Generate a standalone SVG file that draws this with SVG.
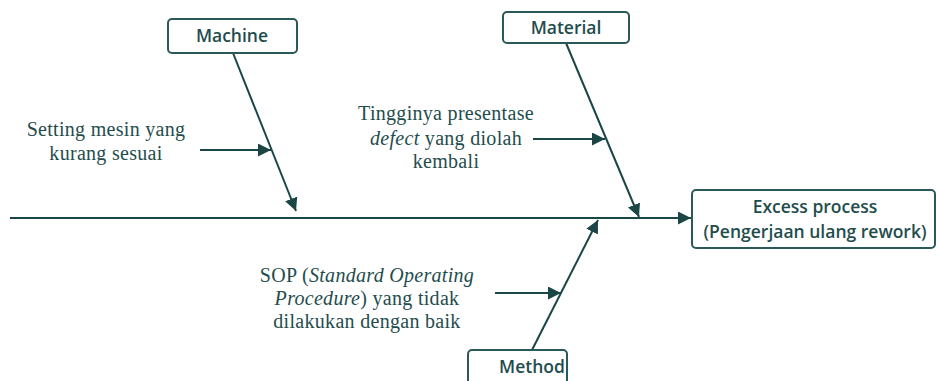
<svg xmlns="http://www.w3.org/2000/svg" width="937" height="381" viewBox="0 0 937 381">
  <style>
    .box { fill: #ffffff; stroke: #2b5858; stroke-width: 2; }
    .lbl { font-family: "Open Sans", "Liberation Sans", sans-serif; font-weight: 600; font-size: 17.5px; fill: #1f4d4d; text-anchor: middle; }
    .cause { font-family: "Liberation Serif", "DejaVu Serif", serif; font-size: 20px; letter-spacing: 0.3px; fill: #1f4d4d; text-anchor: middle; }
    .bone { stroke: #1a4646; stroke-width: 2; fill: none; marker-end: url(#head); }
  </style>
  <defs>
    <marker id="head" viewBox="0 0 10 10" refX="10" refY="5" markerWidth="6.5" markerHeight="6.5" markerUnits="strokeWidth" orient="auto">
      <path d="M0,0 L10,5 L0,10 Z" fill="#1a4646"/>
    </marker>
  </defs>

  <!-- connectors: spine, category bones and cause arrows -->
  <g id="connectors">
    <line class="bone" x1="10" y1="218" x2="691" y2="218"/>
    <line class="bone" x1="233" y1="53" x2="296" y2="211"/>
    <line class="bone" x1="566" y1="43" x2="639" y2="217"/>
    <line class="bone" x1="532" y1="350" x2="598" y2="220"/>
    <line class="bone" x1="200" y1="150" x2="271" y2="150"/>
    <line class="bone" x1="533" y1="139" x2="605" y2="139"/>
    <line class="bone" x1="495" y1="293" x2="561" y2="293"/>
  </g>

  <g id="machine">
    <rect class="box" x="168" y="19" width="129" height="34" rx="4"/>
    <text class="lbl" x="232" y="42">Machine</text>
  </g>

  <g id="material">
    <rect class="box" x="503" y="12" width="126" height="31" rx="4"/>
    <text class="lbl" x="566" y="34">Material</text>
  </g>

  <g id="method">
    <rect class="box" x="468" y="350" width="99" height="40" rx="4"/>
    <text class="lbl" x="532" y="373">Method</text>
  </g>

  <g id="effect">
    <rect class="box" x="692" y="190" width="243" height="58" rx="4"/>
    <text class="lbl" x="815" y="213">Excess process</text>
    <text class="lbl" x="815" y="238">(Pengerjaan ulang rework)</text>
  </g>

  <g id="cause-machine">
    <text class="cause" x="106" y="136">Setting mesin yang</text>
    <text class="cause" x="106" y="160">kurang sesuai</text>
  </g>

  <g id="cause-material">
    <text class="cause" x="446" y="120">Tingginya presentase</text>
    <text class="cause" x="446" y="145"><tspan font-style="italic">defect</tspan> yang diolah</text>
    <text class="cause" x="446" y="168">kembali</text>
  </g>

  <g id="cause-method">
    <text class="cause" x="367" y="282">SOP (<tspan font-style="italic">Standard Operating</tspan></text>
    <text class="cause" x="367" y="305"><tspan font-style="italic">Procedure</tspan>) yang tidak</text>
    <text class="cause" x="367" y="328">dilakukan dengan baik</text>
  </g>
</svg>
